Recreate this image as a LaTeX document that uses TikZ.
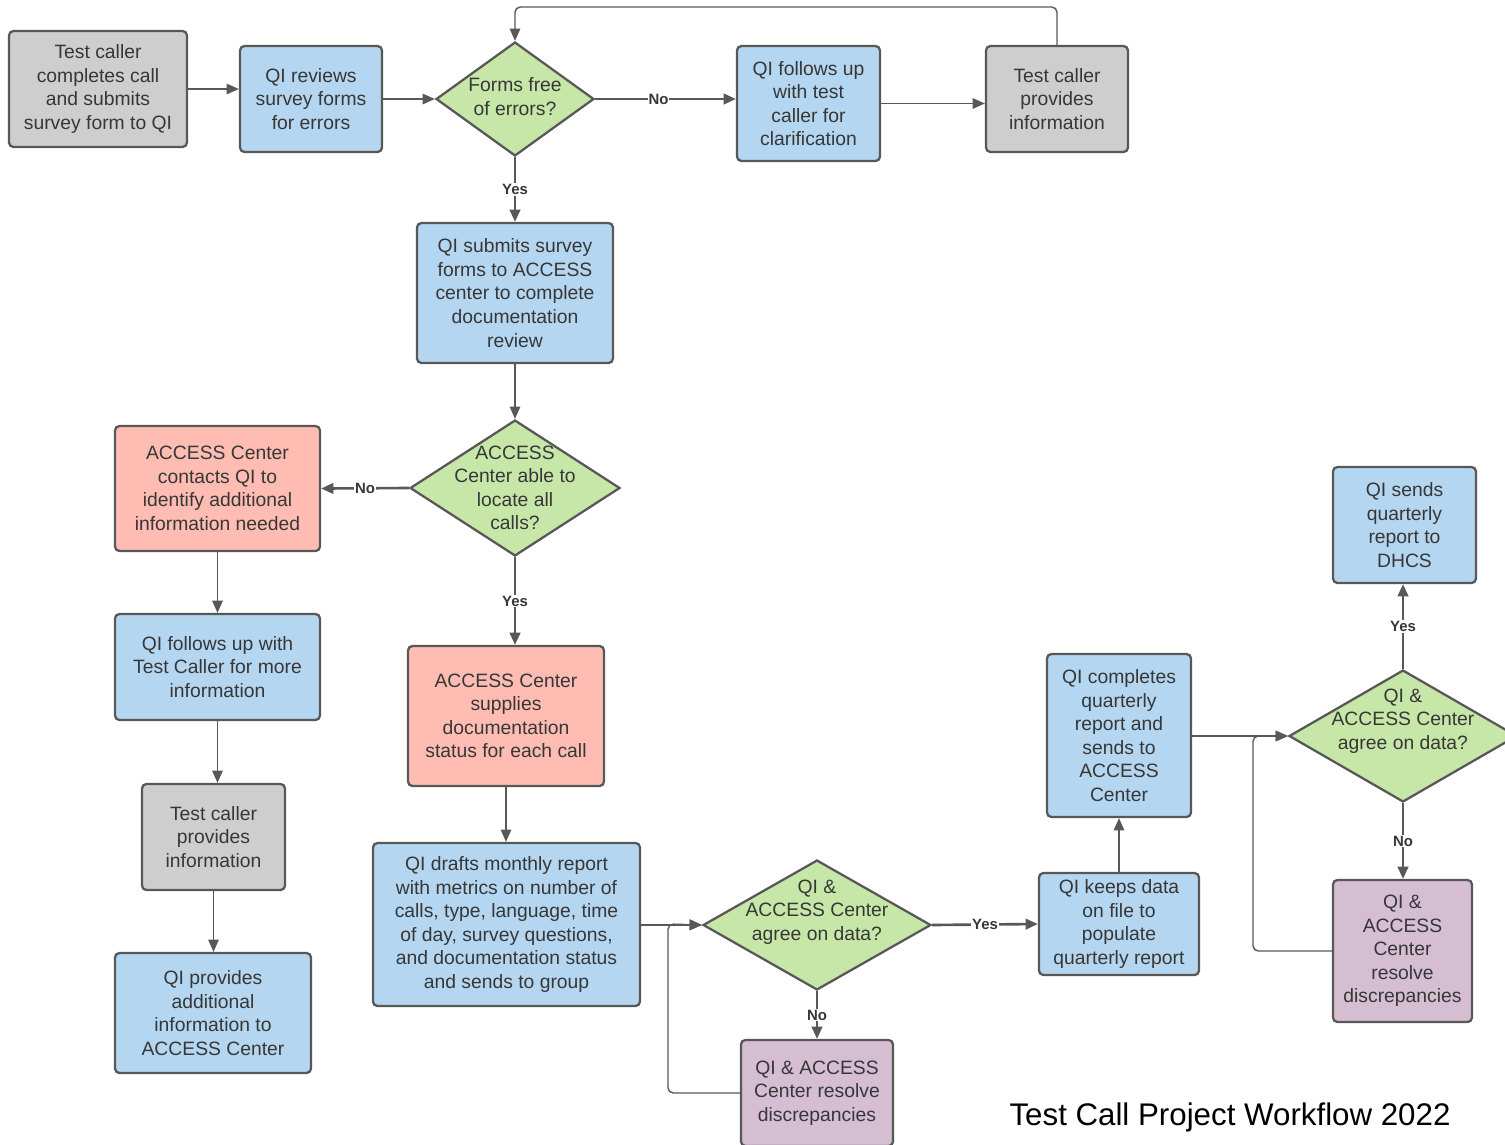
\documentclass[tikz,border=0pt]{standalone}
\usepackage{fontspec}
\setmainfont{Liberation Sans}
\usetikzlibrary{shapes.geometric,arrows.meta}
\definecolor{qiblue}{RGB}{180,214,240}
\definecolor{callgray}{RGB}{206,206,206}
\definecolor{accred}{RGB}{255,188,178}
\definecolor{askgreen}{RGB}{199,231,168}
\definecolor{fixpurple}{RGB}{213,189,210}
\definecolor{edge}{RGB}{88,88,88}
\definecolor{ink}{RGB}{55,55,55}
\tikzset{
  box/.style={draw=edge, line width=1.3pt, rounded corners=2.5pt, align=center,
    inner sep=0pt, text=ink, font=\fontsize{11}{13.4}\selectfont},
  qi/.style={box, fill=qiblue},
  caller/.style={box, fill=callgray},
  center/.style={box, fill=accred},
  resolve/.style={box, fill=fixpurple},
  ask/.style={diamond, draw=edge, line width=1.3pt, fill=askgreen, inner sep=0pt},
  asktext/.style={align=center, text=ink, font=\fontsize{11}{13.4}\selectfont},
  flow/.style={draw=edge, line width=0.8pt, -{Triangle[length=7pt,width=6pt]}},
  branch/.style={flow, line width=1.5pt},
  lbl/.style={fill=white, inner sep=0.5pt, text=ink, font=\fontsize{8.5}{10}\bfseries}
}
\begin{document}
\begin{tikzpicture}[x=0.02cm, y=-0.02cm]
  \useasboundingbox (0,0) rectangle (1505,1144);
  \node[caller, minimum width=3.56cm, minimum height=2.32cm] (tc1) at (98,89)
    {Test caller\\completes call\\and submits\\survey form to QI};
  \node[qi, minimum width=2.84cm, minimum height=2.12cm] (qi1) at (311,99)
    {QI reviews\\survey forms\\for errors};
  \node[ask, minimum width=3.16cm, minimum height=2.28cm] (d1) at (515,99) {};
  \node[asktext] (d1t) at ([yshift=0.05cm]d1) {Forms free\\of errors?};
  \node[qi, minimum width=2.86cm, minimum height=2.3cm] (qi2) at (808.5,103.5)
    {QI follows up\\with test\\caller for\\clarification};
  \node[caller, minimum width=2.84cm, minimum height=2.12cm] (tc2) at (1057,99)
    {Test caller\\provides\\information};
  \node[qi, minimum width=3.92cm, minimum height=2.8cm] (qi3) at (515,293)
    {QI submits survey\\forms to ACCESS\\center to complete\\documentation\\review};
  \node[ask, minimum width=4.2cm, minimum height=2.72cm] (d2) at (515,488) {};
  \node[asktext] (d2t) at (d2) {ACCESS\\Center able to\\locate all\\calls?};
  \node[center, minimum width=4.1cm, minimum height=2.5cm] (ac1) at (217.5,488.5)
    {ACCESS Center\\contacts QI to\\identify additional\\information needed};
  \node[qi, minimum width=4.1cm, minimum height=2.12cm] (qi4) at (217.5,667)
    {QI follows up with\\Test Caller for more\\information};
  \node[caller, minimum width=2.86cm, minimum height=2.12cm] (tc3) at (213.5,837)
    {Test caller\\provides\\information};
  \node[qi, minimum width=3.92cm, minimum height=2.4cm] (qi5) at (213,1013)
    {QI provides\\additional\\information to\\ACCESS Center};
  \node[center, minimum width=3.92cm, minimum height=2.8cm] (ac2) at (506,716)
    {ACCESS Center\\supplies\\documentation\\status for each call};
  \node[qi, minimum width=5.34cm, minimum height=3.26cm] (qi6) at (506.5,924.5)
    {QI drafts monthly report\\with metrics on number of\\calls, type, language, time\\of day, survey questions,\\and documentation status\\and sends to group};
  \node[ask, minimum width=4.56cm, minimum height=2.6cm] (d3) at (817,925) {};
  \node[asktext] (d3t) at ([yshift=0.26cm]d3) {QI \&\\ACCESS Center\\agree on data?};
  \node[resolve, minimum width=3.04cm, minimum height=2.12cm] (pu1) at (817,1093)
    {QI \& ACCESS\\Center resolve\\discrepancies};
  \node[qi, minimum width=3.2cm, minimum height=2.04cm] (qi7) at (1119,924)
    {QI keeps data\\on file to\\populate\\quarterly report};
  \node[qi, minimum width=2.88cm, minimum height=3.26cm] (qi8) at (1119,735.5)
    {QI completes\\quarterly\\report and\\sends to\\ACCESS\\Center};
  \node[ask, minimum width=4.56cm, minimum height=2.64cm] (d4) at (1403,736) {};
  \node[asktext] (d4t) at ([yshift=0.3cm]d4) {QI \&\\ACCESS Center\\agree on data?};
  \node[qi, minimum width=2.86cm, minimum height=2.32cm] (qi9) at (1404.5,525)
    {QI sends\\quarterly\\report to\\DHCS};
  \node[resolve, minimum width=2.78cm, minimum height=2.84cm] (pu2) at (1402.5,951)
    {QI \&\\ACCESS\\Center\\resolve\\discrepancies};
  \node[font=\fontsize{17.8}{20}\selectfont] (title) at (1230,1117)
    {Test Call Project Workflow 2022};
  \coordinate (top) at (786,7);
  \coordinate (j1) at (668,924);
  \coordinate (j2) at (1253,736);
  \draw[flow] (tc1.east) -- (tc1.east -| qi1.west);
  \draw[flow] (qi1.east) -- (d1.west);
  \draw[branch] (d1.east) -- (d1.east -| qi2.west) node[lbl, pos=0.45] {No};
  \draw[flow] (qi2.east) -- (qi2.east -| tc2.west);
  \draw[flow, rounded corners=3pt] (tc2.north) |- (top) -| (d1.north);
  \draw[branch] (d1.south) -- (qi3.north) node[lbl, midway] {Yes};
  \draw[flow] (qi3.south) -- (d2.north);
  \draw[branch] (d2.west) -- (ac1.east) node[lbl, midway] {No};
  \draw[flow] (ac1.south) -- (qi4.north);
  \draw[flow] (qi4.south) -- (qi4.south |- tc3.north);
  \draw[flow] (tc3.south) -- (tc3.south |- qi5.north);
  \draw[branch] (d2.south) -- (d2.south |- ac2.north) node[lbl, midway] {Yes};
  \draw[flow] (ac2.south) -- (qi6.north -| ac2.south);
  \draw[flow] (qi6.east |- d3.west) -- (d3.west);
  \draw[branch] (d3.south) -- (pu1.north) node[lbl, midway] {No};
  \draw[flow, rounded corners=3pt] (pu1.west) -| (j1) -- (d3.west);
  \draw[branch] (d3.east) -- (qi7.west) node[lbl, midway] {Yes};
  \draw[flow] (qi7.north) -- (qi8.south);
  \draw[flow] (qi8.east |- d4.west) -- (d4.west);
  \draw[branch] (d4.north) -- (d4.north |- qi9.south) node[lbl, midway] {Yes};
  \draw[branch] (d4.south) -- (d4.south |- pu2.north) node[lbl, midway] {No};
  \draw[flow, rounded corners=3pt] (pu2.west) -| (j2) -- (d4.west);
\end{tikzpicture}
\end{document}
